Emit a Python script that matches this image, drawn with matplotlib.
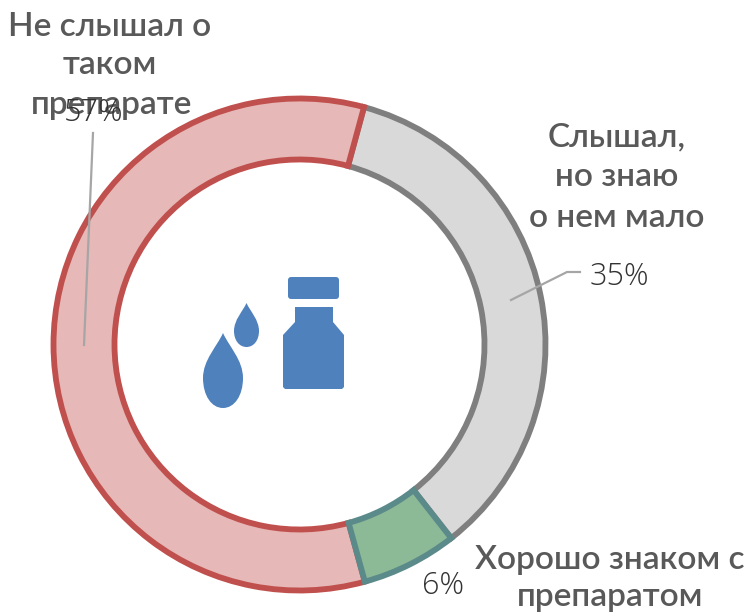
import matplotlib

matplotlib.use("Agg")
import matplotlib.pyplot as plt
from matplotlib.patches import FancyBboxPatch, PathPatch, Polygon
from matplotlib.path import Path

categories = ["Слышал,\nно знаю\nо нем мало", "Хорошо знаком с\nпрепаратом", "Не слышал о\nтаком\nпрепарате"]
shares = [35.2, 6.3, 58.5]
pct_labels = ["35%", "6%", "57%"]
fills = ["#d9d9d9", "#8cb996", "#e6b8b7"]
edges = ["#7f7f7f", "#5b8a8a", "#c0504d"]

BLUE = "#4f81bd"
plt.rcParams["font.family"] = ["Lato", "DejaVu Sans"]


def drop(ax, cx, tip, widest, bottom, half):
    h = widest - tip
    verts = [
        (cx, tip),
        (cx + half * 0.3, tip + h * 0.3),
        (cx + half, widest - h * 0.4),
        (cx + half, widest),
        (cx + half, bottom - (bottom - widest) * 0.42),
        (cx + half * 0.58, bottom),
        (cx, bottom),
        (cx - half * 0.58, bottom),
        (cx - half, bottom - (bottom - widest) * 0.42),
        (cx - half, widest),
        (cx - half, widest - h * 0.4),
        (cx - half * 0.3, tip + h * 0.3),
        (cx, tip),
    ]
    codes = [Path.MOVETO] + [Path.CURVE4] * 12
    ax.add_patch(PathPatch(Path(verts, codes), facecolor=BLUE, edgecolor="none"))


fig = plt.figure(figsize=(7.51, 6.13), dpi=100)
ax = fig.add_axes([0, 0, 1, 1])

# y axis is flipped so everything below is in picture pixels
wedges, _ = ax.pie(
    shares,
    colors=fills,
    center=(299.5, 344.5),
    radius=246,
    startangle=-74.8,
    counterclock=True,
    wedgeprops={"width": 61, "linewidth": 4.2, "joinstyle": "miter"},
)
for w, ec in zip(wedges, edges):
    w.set_edgecolor(ec)
wedges[1].set_zorder(3)
ax.set_xlim(0, 751)
ax.set_ylim(613, 0)
ax.set_aspect("equal")
ax.axis("off")

ax.plot([84, 93], [345, 133], color="#a6a6a6", lw=1.6, zorder=4)
ax.plot([511, 567, 580], [300, 272, 272], color="#a6a6a6", lw=1.6, zorder=4)

# bottle and drops
ax.add_patch(FancyBboxPatch((291, 280), 45, 16, boxstyle="round,pad=3", facecolor=BLUE, edgecolor="none"))
ax.add_patch(Polygon(
    [(295, 307), (333, 307), (333, 322), (344, 335), (344, 387), (342, 389), (285, 389), (283, 387), (283, 335), (295, 322)],
    closed=True, facecolor=BLUE, edgecolor="none",
))
drop(ax, 223, 333, 378, 408, 20)
drop(ax, 246.5, 303, 331, 347, 12.5)

text_kw = {"ha": "center", "va": "center", "color": "#595959", "fontsize": 24, "fontweight": "semibold", "zorder": 5}
pct_kw = {"ha": "center", "va": "center", "color": "#333333", "fontsize": 22, "family": ["Open Sans", "DejaVu Sans"], "fontweight": "light", "zorder": 6}
label_lines = [
    [(110, 27), (110, 65), (112, 105)],
    [(617, 137), (617, 177), (617, 218)],
    [(610, 560), (610, 597)],
]
for label, spots in zip([categories[2], categories[0], categories[1]], label_lines):
    for line, (x, y) in zip(label.split("\n"), spots):
        ax.text(x, y, line, **text_kw)
ax.text(619, 277, pct_labels[0], **pct_kw)
ax.text(443, 586, pct_labels[1], **pct_kw)
ax.text(94, 113, pct_labels[2], **pct_kw)

fig.savefig("out.png", dpi=100)
plt.close(fig)
